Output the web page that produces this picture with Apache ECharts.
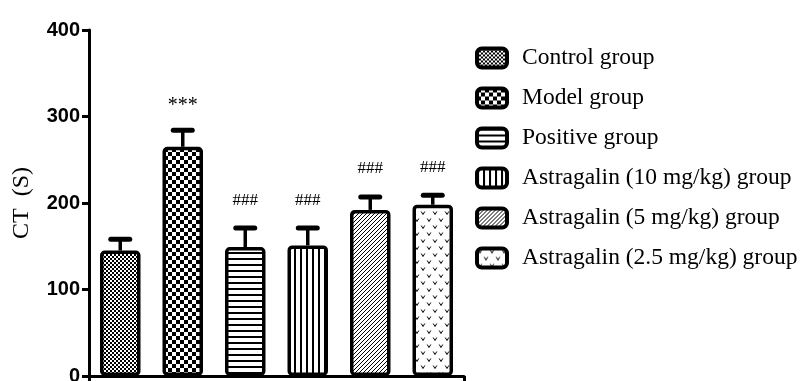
<!DOCTYPE html>
<html>
<head>
<meta charset="utf-8">
<script src="https://cdn.jsdelivr.net/npm/echarts@6/dist/echarts.min.js"></script>
<style>
  html, body { margin: 0; padding: 0; background: #fff; }
  #chart { width: 801px; height: 381px; }
</style>
</head>
<body>
<div id="chart"></div>
<script>
// Group names, mean CT (s), SEM and significance marks
const groups = [
  'Control group',
  'Model group',
  'Positive group',
  'Astragalin (10 mg/kg) group',
  'Astragalin (5 mg/kg) group',
  'Astragalin (2.5 mg/kg) group'
];
const means = [145, 265, 149, 151, 192, 198];
const errors = [13, 19, 22, 20, 15, 11];
const marks = ['', '***', '###', '###', '###', '###'];
const yTicks = { min: 0, max: 400, interval: 100 };

// Mark text styles: asterisks sit high in the em box, so they get a smaller lift
const markStyle = {
  '***': { fontSize: 20, lift: 25 },
  '###': { fontSize: 17, lift: 28 }
};

// Monochrome fill patterns for each group
function pattern(w, h, draw) {
  const c = document.createElement('canvas');
  c.width = w; c.height = h;
  const ctx = c.getContext('2d');
  ctx.fillStyle = '#fff';
  ctx.fillRect(0, 0, w, h);
  ctx.fillStyle = '#000';
  ctx.strokeStyle = '#000';
  draw(ctx, w, h);
  return { image: c, repeat: 'repeat' };
}

const fills = [
  // fine checker
  pattern(4, 4, ctx => { ctx.fillRect(0, 0, 2, 2); ctx.fillRect(2, 2, 2, 2); }),
  // coarse checker
  pattern(8, 8, ctx => { ctx.fillRect(0, 0, 4, 4); ctx.fillRect(4, 4, 4, 4); }),
  // horizontal lines
  pattern(6, 6, ctx => { ctx.fillRect(0, 0, 6, 2); }),
  // vertical lines
  pattern(6, 6, ctx => { ctx.fillRect(0, 0, 2, 6); }),
  // diagonal hatch
  pattern(4, 4, ctx => { for (let i = 0; i < 4; i++) ctx.fillRect(i, 3 - i, 1, 1); }),
  // scattered small "v" marks
  pattern(12, 14, ctx => {
    ctx.lineWidth = 1;
    [[3, 3], [9, 10]].forEach(([x, y]) => {
      ctx.beginPath();
      ctx.moveTo(x - 1.8, y - 1.5);
      ctx.lineTo(x, y + 1.5);
      ctx.lineTo(x + 1.8, y - 1.5);
      ctx.stroke();
    });
  })
];

const barSeries = groups.map((name, i) => ({
  name: name,
  type: 'bar',
  barWidth: 40.5,
  barGap: '-100%',
  data: means.map((v, j) => (j === i ? v : '-')),
  itemStyle: {
    color: fills[i],
    borderColor: '#000',
    borderWidth: 3.5,
    borderRadius: 3
  },
  emphasis: { disabled: true },
  z: 3
}));

const errorSeries = {
  type: 'custom',
  data: means.map((m, i) => [i, m, errors[i]]),
  z: 2,
  renderItem: function (params, api) {
    const i = params.dataIndex;
    const x = api.value(0);
    const m = api.value(1);
    const e = api.value(2);
    const base = api.coord([x, m]);
    const top = api.coord([x, m + e]);
    const children = [
      { type: 'line', shape: { x1: base[0], y1: base[1], x2: top[0], y2: top[1] },
        style: { stroke: '#000', lineWidth: 3.5 } },
      { type: 'line', shape: { x1: top[0] - 9.5, y1: top[1], x2: top[0] + 9.5, y2: top[1] },
        style: { stroke: '#000', lineWidth: 5, lineCap: 'round' } }
    ];
    const mk = marks[i];
    if (mk) {
      children.push({
        type: 'text',
        style: {
          text: mk,
          x: top[0],
          y: top[1] - markStyle[mk].lift,
          align: 'center',
          verticalAlign: 'middle',
          fontFamily: 'Liberation Serif',
          fontSize: markStyle[mk].fontSize,
          fill: '#000'
        }
      });
    }
    return { type: 'group', children: children };
  }
};

const chart = echarts.init(document.getElementById('chart'), null, { renderer: 'canvas' });
chart.setOption({
  animation: false,
  backgroundColor: '#fff',
  grid: { left: 89, right: 337, top: 30, bottom: 5, containLabel: false, outerBoundsMode: 'none' },
  legend: {
    data: groups,
    orient: 'vertical',
    left: 475,
    top: 46,
    padding: 0,
    itemWidth: 30,
    itemHeight: 19,
    itemGap: 16,
    icon: 'roundRect',
    itemStyle: { borderColor: '#000', borderWidth: 4 },
    textStyle: {
      fontFamily: 'Liberation Serif',
      fontSize: 23.5,
      lineHeight: 24,
      color: '#000',
      padding: [0, 0, 0, 10]
    },
    selectedMode: false
  },
  xAxis: {
    type: 'category',
    data: groups,
    boundaryGap: true,
    axisLine: { lineStyle: { color: '#000', width: 3 } },
    axisTick: {
      show: true,
      length: 6,
      lineStyle: { color: '#000', width: 3 },
      interval: function (index) { return index === 3; }
    },
    axisLabel: { show: false }
  },
  yAxis: {
    type: 'value',
    min: yTicks.min,
    max: yTicks.max,
    interval: yTicks.interval,
    name: 'CT  (S)',
    nameLocation: 'middle',
    nameGap: 55,
    nameTextStyle: { fontFamily: 'Liberation Serif', fontSize: 24, color: '#000' },
    axisLine: { show: true, lineStyle: { color: '#000', width: 3 } },
    axisTick: { show: true, length: 7, lineStyle: { color: '#000', width: 3 } },
    axisLabel: {
      margin: 9,
      fontFamily: 'Liberation Sans',
      fontWeight: 'bold',
      fontSize: 20,
      color: '#000'
    },
    splitLine: { show: false }
  },
  series: barSeries.concat([errorSeries])
});
</script>
</body>
</html>
